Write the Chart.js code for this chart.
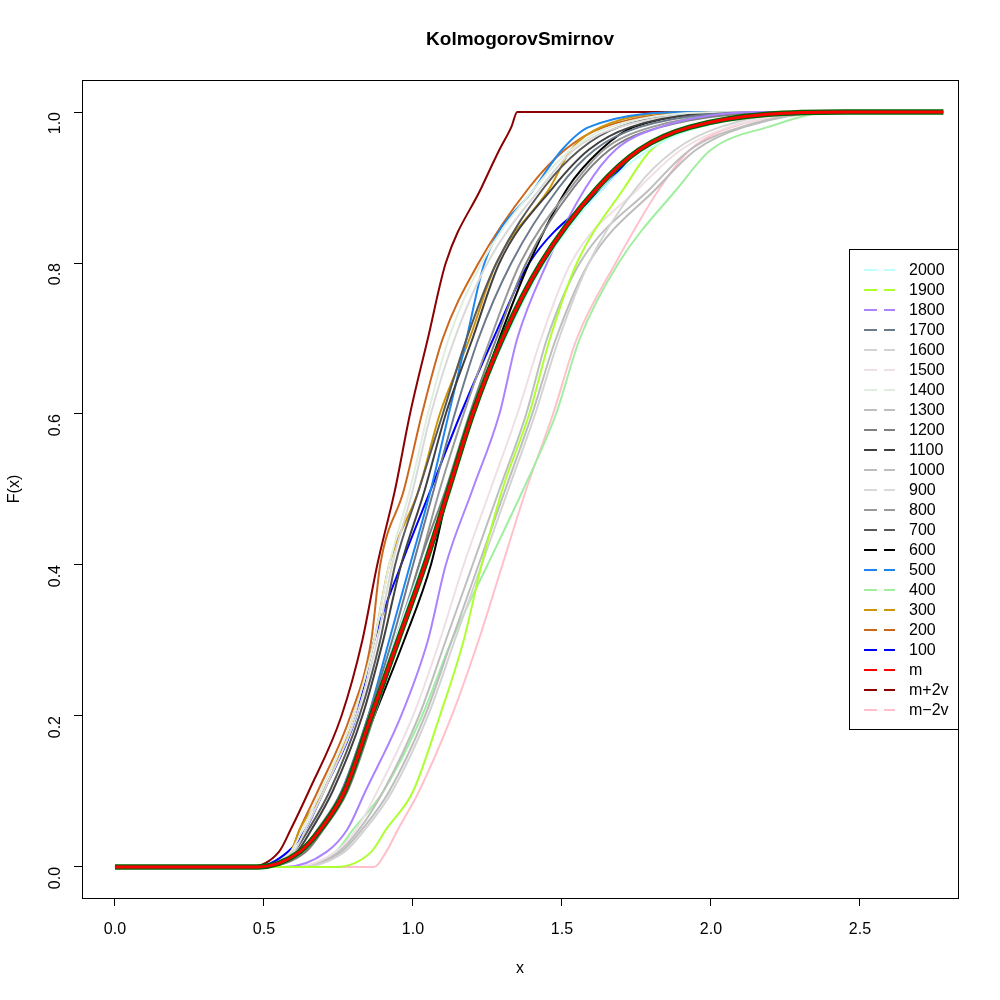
<!DOCTYPE html>
<html>
<head>
<meta charset="utf-8">
<script src="https://cdn.jsdelivr.net/npm/chart.js@4.4.1/dist/chart.umd.min.js"></script>
<style>
  html, body { margin: 0; padding: 0; background: #fff; }
  #wrap { width: 1000px; height: 1000px; }
</style>
</head>
<body>
<div id="wrap"><canvas id="ksChart" width="1000" height="1000"></canvas></div>
<script>
const levels = [0, 0.02, 0.05, 0.1, 0.2, 0.3, 0.4, 0.5, 0.6, 0.7, 0.8, 0.9, 0.95, 0.98, 1];
const xFirst = 0;
const xLast = 2.78;
const xTicks = [0, 0.5, 1, 1.5, 2, 2.5];
const yTicks = [0, 0.2, 0.4, 0.6, 0.8, 1];

// legend order
const names = ['2000', '1900', '1800', '1700', '1600', '1500', '1400', '1300', '1200', '1100',
  '1000', '900', '800', '700', '600', '500', '400', '300', '200', '100', 'm', 'm+2v', 'm\u22122v'];
const colors = ['#bbffff', '#adff2f', '#ab82ff', '#6c7b8b', '#d3d3d3', '#eee0e5', '#e0eee0', '#bebebe',
  '#7f7f7f', '#404040', '#bdbdbd', '#d9d9d9', '#999999', '#595959', '#000000', '#1c86ee', '#a0eea0',
  '#cd950c', '#cd661d', '#0000ff', '#ff0000', '#8b0000', '#ffc0cb'];

const x2000 = [0.49, 0.62, 0.69, 0.77, 0.86, 0.94, 1.03, 1.12, 1.20, 1.31, 1.44, 1.64, 1.79, 1.96, 2.40];
const x1900 = [0.74, 0.86, 0.91, 1.00, 1.09, 1.17, 1.23, 1.30, 1.39, 1.46, 1.55, 1.71, 1.80, 1.96, 2.30];
const x1800 = [0.57, 0.71, 0.78, 0.84, 0.96, 1.05, 1.11, 1.20, 1.29, 1.35, 1.45, 1.58, 1.68, 1.83, 2.16];
const x1700 = [0.49, 0.62, 0.68, 0.76, 0.85, 0.93, 1.00, 1.07, 1.14, 1.22, 1.33, 1.49, 1.61, 1.76, 2.23];
const x1600 = [0.62, 0.77, 0.84, 0.93, 1.05, 1.14, 1.23, 1.32, 1.41, 1.49, 1.59, 1.75, 1.88, 2.03, 2.33];
const x1500 = [0.59, 0.74, 0.81, 0.88, 1.00, 1.09, 1.17, 1.26, 1.35, 1.43, 1.53, 1.76, 1.90, 2.06, 2.37];
const x1400 = [0.48, 0.59, 0.63, 0.69, 0.80, 0.87, 0.92, 0.99, 1.05, 1.12, 1.23, 1.41, 1.53, 1.66, 2.10];
const x1300 = [0.60, 0.75, 0.82, 0.90, 1.02, 1.11, 1.20, 1.29, 1.38, 1.45, 1.56, 1.80, 1.93, 2.10, 2.40];
const x1200 = [0.49, 0.64, 0.70, 0.78, 0.87, 0.95, 1.02, 1.11, 1.19, 1.28, 1.38, 1.54, 1.66, 1.83, 2.30];
const x1100 = [0.49, 0.61, 0.66, 0.73, 0.83, 0.90, 0.96, 1.04, 1.11, 1.20, 1.29, 1.47, 1.59, 1.73, 2.16];
const x1000 = [0.62, 0.76, 0.83, 0.92, 1.04, 1.13, 1.22, 1.31, 1.40, 1.48, 1.59, 1.82, 1.95, 2.11, 2.43];
const x900 = [0.48, 0.60, 0.64, 0.70, 0.81, 0.88, 0.93, 1.00, 1.06, 1.14, 1.25, 1.43, 1.54, 1.69, 2.16];
const x800 = [0.49, 0.63, 0.69, 0.77, 0.86, 0.94, 1.02, 1.09, 1.17, 1.26, 1.36, 1.53, 1.64, 1.80, 2.27];
const x700 = [0.49, 0.60, 0.65, 0.72, 0.82, 0.89, 0.94, 1.02, 1.10, 1.18, 1.28, 1.44, 1.56, 1.69, 2.10];
const x600 = [0.49, 0.62, 0.69, 0.77, 0.87, 0.97, 1.06, 1.12, 1.20, 1.29, 1.39, 1.52, 1.63, 1.74, 2.16];
const x500 = [0.49, 0.62, 0.69, 0.76, 0.85, 0.92, 0.99, 1.06, 1.12, 1.18, 1.24, 1.41, 1.50, 1.59, 1.96];
const x400 = [0.62, 0.74, 0.80, 0.90, 1.03, 1.13, 1.25, 1.37, 1.48, 1.56, 1.69, 1.89, 2.00, 2.19, 2.41];
const x300 = [0.48, 0.59, 0.62, 0.70, 0.80, 0.87, 0.92, 1.02, 1.09, 1.19, 1.28, 1.46, 1.53, 1.63, 1.96];
const x200 = [0.47, 0.59, 0.62, 0.68, 0.79, 0.86, 0.89, 0.97, 1.03, 1.10, 1.22, 1.39, 1.51, 1.64, 2.03];
const x100 = [0.47, 0.58, 0.64, 0.70, 0.81, 0.87, 0.96, 1.06, 1.16, 1.27, 1.39, 1.64, 1.76, 1.93, 2.30];
const xM = [0.48, 0.62, 0.69, 0.77, 0.86, 0.95, 1.04, 1.12, 1.20, 1.30, 1.43, 1.62, 1.76, 1.93, 2.45];
const xMplus = [0.45, 0.55, 0.59, 0.65, 0.76, 0.83, 0.88, 0.94, 0.99, 1.05, 1.11, 1.23, 1.29, 1.33, 1.35];
const xMminus = [0.87, 0.91, 0.95, 1.02, 1.13, 1.22, 1.30, 1.38, 1.47, 1.55, 1.68, 1.83, 1.93, 2.07, 2.41];

const curves = [x2000, x1900, x1800, x1700, x1600, x1500, x1400, x1300, x1200, x1100,
  x1000, x900, x800, x700, x600, x500, x400, x300, x200, x100, xM, xMplus, xMminus];

function toPoints(xs) {
  const pts = [{ x: xFirst, y: 0 }];
  xs.forEach((x, i) => pts.push({ x: x, y: levels[i] }));
  pts.push({ x: xLast, y: 1 });
  return pts;
}

const datasets = curves.map((xs, i) => ({
  label: names[i],
  data: toPoints(xs),
  borderColor: colors[i],
  borderWidth: names[i] === 'm' ? 3 : 2,
  order: names[i] === 'm' ? 0 : 2
}));
// dark green outline under the m curve
datasets.push({
  label: '',
  data: toPoints(xM),
  borderColor: '#006400',
  borderWidth: 5.5,
  order: 1
});

const FONT = 'Liberation Sans, Arial, Helvetica, sans-serif';

const rBox = {
  id: 'rBox',
  afterDraw(chart) {
    const { ctx, chartArea } = chart;
    ctx.save();
    ctx.strokeStyle = '#000';
    ctx.lineWidth = 1;
    ctx.strokeRect(chartArea.left + 0.5, chartArea.top + 0.5,
      chartArea.right - chartArea.left, chartArea.bottom - chartArea.top);

    // title
    ctx.fillStyle = '#000';
    ctx.font = 'bold 19px ' + FONT;
    ctx.textAlign = 'center';
    ctx.textBaseline = 'middle';
    ctx.fillText('KolmogorovSmirnov', (chartArea.left + chartArea.right) / 2, 40);

    // legend box
    const right = chartArea.right;
    const left = right - 109;
    const top = 249;
    const bottom = 729;
    ctx.fillStyle = '#fff';
    ctx.fillRect(left, top, right - left, bottom - top);
    ctx.strokeRect(left + 0.5, top + 0.5, right - left, bottom - top);
    ctx.font = '16px ' + FONT;
    ctx.textAlign = 'left';
    names.forEach((name, i) => {
      const y = top + 21 + i * 20;
      ctx.strokeStyle = colors[i];
      ctx.lineWidth = 2;
      ctx.setLineDash([13, 7]);
      ctx.beginPath();
      ctx.moveTo(left + 15, y);
      ctx.lineTo(left + 46, y);
      ctx.stroke();
      ctx.setLineDash([]);
      ctx.fillStyle = '#000';
      ctx.fillText(name, left + 60, y + 1);
    });
    ctx.restore();
  }
};

new Chart(document.getElementById('ksChart'), {
  type: 'line',
  data: { datasets: datasets },
  options: {
    responsive: false,
    devicePixelRatio: 1,
    animation: false,
    layout: { padding: { top: 80, right: 42, left: 0, bottom: 0 } },
    elements: {
      point: { radius: 0 },
      line: { cubicInterpolationMode: 'monotone', fill: false }
    },
    scales: {
      x: {
        type: 'linear',
        min: -0.1107,
        max: 2.829,
        afterFit: (scale) => { scale.height = 102; },
        afterBuildTicks: (scale) => { scale.ticks = xTicks.map(v => ({ value: v })); },
        grid: { drawOnChartArea: false, drawTicks: true, tickLength: 8, color: '#000' },
        border: { display: false },
        ticks: {
          color: '#000',
          font: { size: 16, family: FONT },
          padding: 14,
          maxRotation: 0,
          callback: (v) => v.toFixed(1)
        },
        title: {
          display: true,
          text: 'x',
          color: '#000',
          font: { size: 16, family: FONT },
          padding: { top: 0, bottom: 22 }
        }
      },
      y: {
        type: 'linear',
        min: -0.0411,
        max: 1.0424,
        afterFit: (scale) => { scale.width = 82; },
        afterBuildTicks: (scale) => { scale.ticks = yTicks.map(v => ({ value: v })); },
        grid: { drawOnChartArea: false, drawTicks: true, tickLength: 8, color: '#000' },
        border: { display: false },
        ticks: {
          color: '#000',
          font: { size: 16, family: FONT },
          padding: 18,
          minRotation: 90,
          maxRotation: 90,
          callback: (v) => v.toFixed(1)
        },
        title: {
          display: true,
          text: 'F(x)',
          color: '#000',
          font: { size: 16, family: FONT },
          padding: { top: 5, bottom: 0 }
        }
      }
    },
    plugins: {
      legend: { display: false },
      title: { display: false },
      tooltip: { enabled: false }
    }
  },
  plugins: [rBox]
});
</script>
</body>
</html>
